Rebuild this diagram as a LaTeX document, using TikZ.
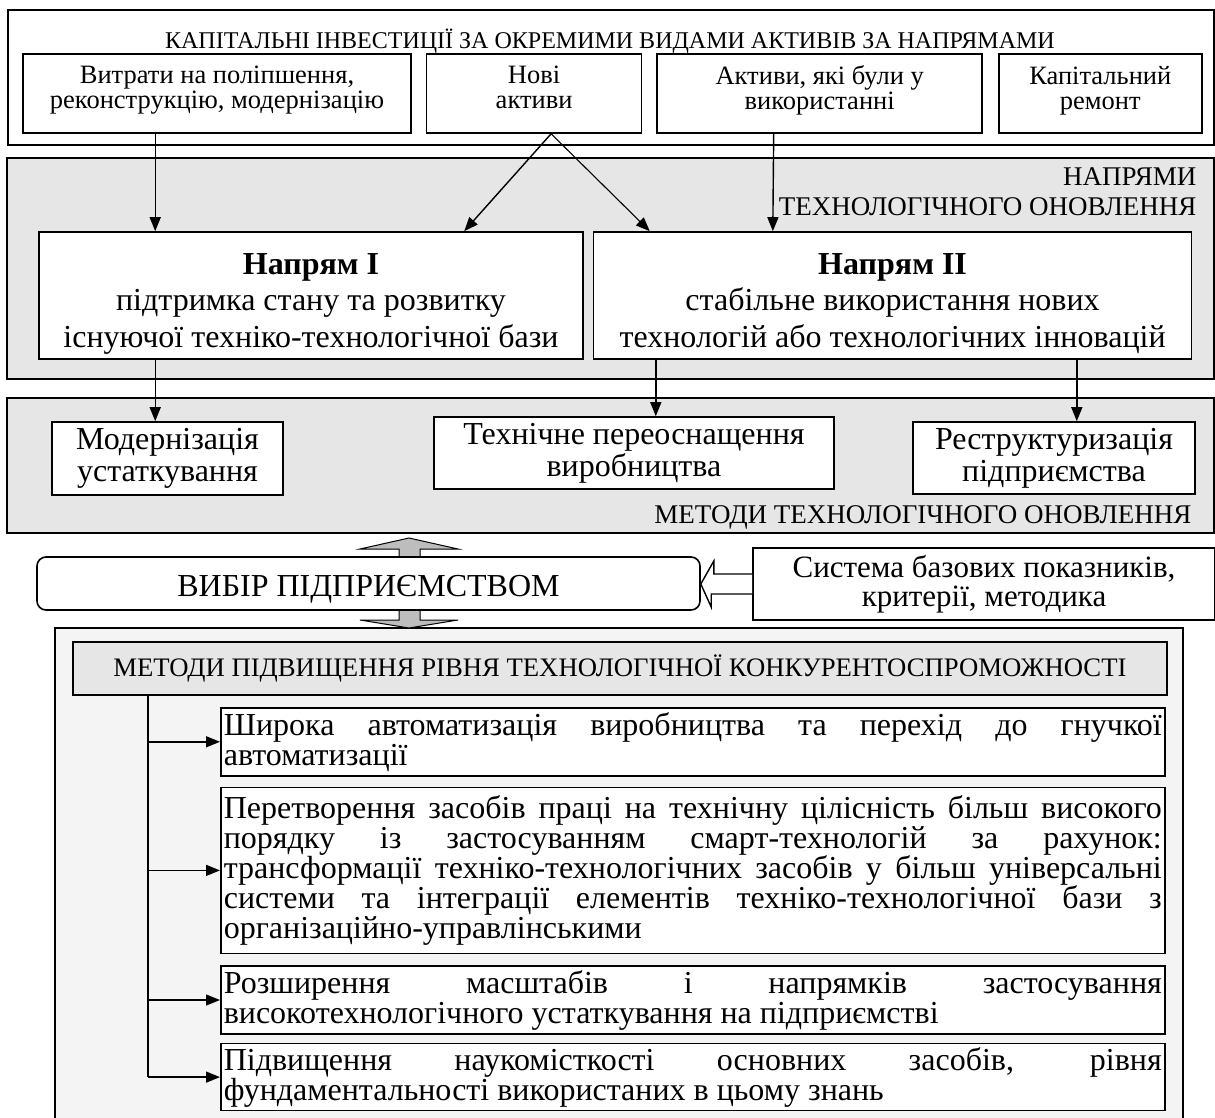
\documentclass[tikz,border=0pt]{standalone}
\usepackage{fontspec}
\setmainfont{Liberation Serif}
\usetikzlibrary{positioning, arrows.meta, calc}
\definecolor{panelgray}{HTML}{E6E6E6}
\definecolor{framegray}{HTML}{F4F4F4}
\definecolor{arrowgray}{HTML}{BDBDBD}
\newcommand\fs[2]{\fontsize{#1}{#2}\selectfont}
\hyphenpenalty=10000
\exhyphenpenalty=10000
\tolerance=10000

\begin{document}
\begin{tikzpicture}[x=1pt, y=-1pt,
    frame/.style={rectangle, draw=black, line width=1.6pt, anchor=north west, inner sep=0pt},
    panel/.style={frame, fill=panelgray},
    item/.style={rectangle, draw=black, line width=1.6pt, fill=white, align=center, inner sep=0pt},
    listitem/.style={rectangle, draw=black, line width=1.6pt, fill=white, anchor=north west, inner xsep=3pt, inner ysep=0pt, text width=938pt, align=justify, font=\fs{32}{30}},
    arrow/.style={line width=1.4pt, -{Triangle[length=14pt, width=11pt]}},
]
\useasboundingbox (0,0) rectangle (1215,1118);

% Capital investments
\node[frame, minimum width=1206, minimum height=135] (capinv) at (7,9) {};
\node[font=\fs{24}{27}] (capinvTitle) at (610,41) {КАПІТАЛЬНІ ІНВЕСТИЦІЇ ЗА ОКРЕМИМИ ВИДАМИ АКТИВІВ ЗА НАПРЯМАМИ};
\node[item, font=\fs{26.5}{25}, minimum width=388, minimum height=79] (spend) at (217,93.5) {Витрати на поліпшення,\\реконструкцію, модернізацію\rule[-12pt]{0pt}{0pt}};
\node[item, font=\fs{26.5}{25}, minimum width=215, minimum height=79, right=14pt of spend] (newAssets) {Нові\\активи\rule[-12pt]{0pt}{0pt}};
\node[item, font=\fs{26.5}{25}, minimum width=325, minimum height=79, right=14pt of newAssets] (usedAssets) {Активи, які були у\\використанні\rule[-12pt]{0pt}{0pt}};
\node[item, font=\fs{26.5}{25}, minimum width=203, minimum height=79, right=15pt of usedAssets] (repair) {Капітальний\\ремонт\rule[-12pt]{0pt}{0pt}};

% Directions of technological renewal
\node[panel, minimum width=1207, minimum height=221] (dirPanel) at (6,157) {};
\node[anchor=east, align=right, font=\fs{27}{30}] (dirLabel) at (1200,192) {НАПРЯМИ\\ТЕХНОЛОГІЧНОГО ОНОВЛЕННЯ};
\node[item, font=\fs{32}{36.5}, minimum width=544, minimum height=127] (dirI) at (311,295.5) {\rule{0pt}{37pt}\textbf{Напрям I}\\підтримка стану та розвитку\\існуючої техніко-технологічної бази};
\node[item, font=\fs{32}{36.5}, minimum width=598, minimum height=127, right=9pt of dirI] (dirII) {\rule{0pt}{37pt}\textbf{Напрям II}\\стабільне використання нових\\технологій або технологічних інновацій};

% Methods of technological renewal
\node[panel, minimum width=1207, minimum height=135] (methPanel) at (6,397) {};
\node[anchor=east, font=\fs{27}{30}] (methLabel) at (1195,517) {МЕТОДИ ТЕХНОЛОГІЧНОГО ОНОВЛЕННЯ};
\node[item, font=\fs{32}{32}, minimum width=231, minimum height=73] (modern) at (167.5,458.5) {Модернізація\\устаткування};
\node[item, font=\fs{32}{32}, minimum width=400, minimum height=72] (reequip) at (634,453) {Технічне переоснащення\\виробництва};
\node[item, font=\fs{32}{32}, minimum width=282, minimum height=72] (restruct) at (1054,458) {Реструктуризація\\підприємства};

% Methods of raising competitiveness
\node[frame, fill=framegray, minimum width=1128, minimum height=510] (compFrame) at (54,627) {};
\node[item, fill=panelgray, font=\fs{26.7}{28}, minimum width=1094, minimum height=53] (compHead) at (620,668.5) {МЕТОДИ ПІДВИЩЕННЯ РІВНЯ ТЕХНОЛОГІЧНОЇ КОНКУРЕНТОСПРОМОЖНОСТІ};
\node[listitem, minimum height=68] (wideAuto) at (220,707) {Широка автоматизація виробництва та перехід до гнучкої\linebreak автоматизації};
\node[listitem, minimum height=166, below=10pt of wideAuto.south west, anchor=north west] (smartTech) {Перетворення засобів праці на технічну цілісність більш високого\linebreak порядку із застосуванням смарт-технологій за рахунок:\linebreak трансформації техніко-технологічних засобів у більш універсальні\linebreak системи та інтеграції елементів техніко-технологічної бази з\linebreak організаційно-управлінськими};
\node[listitem, minimum height=68, below=11pt of smartTech.south west, anchor=north west] (hiTech) {Розширення масштабів і напрямків застосування\linebreak високотехнологічного устаткування на підприємстві};
\node[listitem, minimum height=67, below=8pt of hiTech.south west, anchor=north west] (knowledge) {Підвищення наукомісткості основних засобів, рівня\linebreak фундаментальності використаних в цьому знань};
\coordinate (trunk) at ([xshift=76pt]compHead.south west);

% Choice by the enterprise
\filldraw[fill=arrowgray, line width=1pt] (409,538) -- ++(49,11) -- ++(-38,0) -- ++(0,71) -- ++(38,0) -- ++(-49,8) -- ++(-49,-8) -- ++(39,0) -- ++(0,-71) -- ++(-39,0) -- cycle;
\node[item, rounded corners=9pt, font=\fs{32}{34}, minimum width=663, minimum height=53] (choice) at (368.5,583.5) {\rule{0pt}{33pt}ВИБІР ПІДПРИЄМСТВОМ};
\node[item, font=\fs{31}{29}, minimum width=462, minimum height=72] (indicators) at (984,584) {Система базових показників,\\критерії, методика};
\draw[fill=white, line width=1.4pt] ([yshift=-10pt]indicators.west) -- ++(-41,0) -- ++(0,13) -- (choice.east |- indicators.west) -- ++(13,-23) -- ++(0,13) -- ([yshift=10pt]indicators.west);

% Arrows
\draw[arrow] ([xshift=133pt]spend.south west) -- ([xshift=117pt]dirI.north west);
\draw[arrow] ([xshift=17pt]newAssets.south) -- ([xshift=426pt]dirI.north west);
\draw[arrow, line width=1.1pt] ([xshift=17pt]newAssets.south) -- ([xshift=57pt]dirII.north west);
\draw[arrow] ([xshift=-46pt]usedAssets.south) -- ([xshift=180pt]dirII.north west);
\draw[arrow] ([xshift=117pt]dirI.south west) -- ([xshift=117pt]dirI.south west |- modern.north);
\draw[arrow] ([xshift=63pt]dirII.south west) -- ([xshift=63pt]dirII.south west |- reequip.north);
\draw[arrow] ([xshift=484pt]dirII.south west) -- ([xshift=484pt]dirII.south west |- restruct.north);
\draw[line width=1.6pt] (trunk) -- (trunk |- knowledge.west);
\foreach \n in {wideAuto, smartTech, hiTech, knowledge}
    \draw[arrow] (trunk) |- (\n.west);

\end{tikzpicture}
\end{document}
